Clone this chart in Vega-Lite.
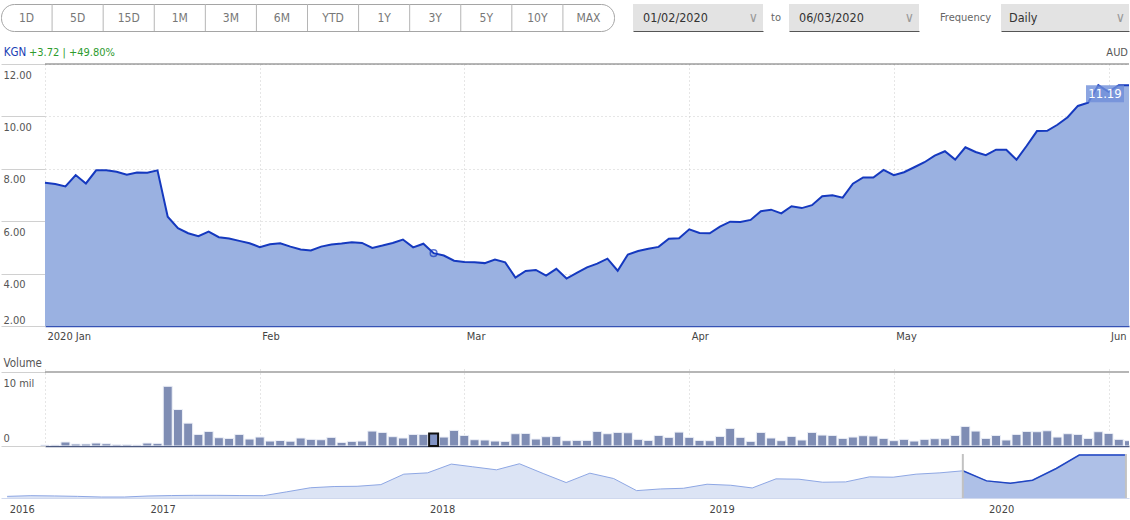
{
  "$schema": "https://vega.github.io/schema/vega-lite/v6.json",
  "padding": {"top": 3, "left": 0, "right": 0, "bottom": 0},
  "background": "#ffffff",
  "spacing": 0,
  "config": {
    "font": "Liberation Sans Narrow, DejaVu Sans Condensed, Roboto Condensed, Roboto, sans-serif",
    "view": {"stroke": null},
    "concat": {"spacing": 0},
    "axis": {"labelFontSize": 11, "labelColor": "#555555"}
  },
  "datasets": {
    "buttons": [
      {"label": "1D"}, {"label": "5D"}, {"label": "15D"}, {"label": "1M"}, {"label": "3M"}, {"label": "6M"},
      {"label": "YTD"}, {"label": "1Y"}, {"label": "3Y"}, {"label": "5Y"}, {"label": "10Y"}, {"label": "MAX"}
    ],
    "daily": [
      {"date":"2020-01-02","close":7.47,"volume":130000},
      {"date":"2020-01-03","close":7.42,"volume":130000},
      {"date":"2020-01-06","close":7.33,"volume":540000},
      {"date":"2020-01-07","close":7.76,"volume":270000},
      {"date":"2020-01-08","close":7.44,"volume":270000},
      {"date":"2020-01-09","close":7.94,"volume":400000},
      {"date":"2020-01-10","close":7.94,"volume":310000},
      {"date":"2020-01-13","close":7.89,"volume":180000},
      {"date":"2020-01-14","close":7.77,"volume":180000},
      {"date":"2020-01-15","close":7.86,"volume":130000},
      {"date":"2020-01-16","close":7.85,"volume":400000},
      {"date":"2020-01-17","close":7.94,"volume":360000},
      {"date":"2020-01-20","close":6.17,"volume":8070000},
      {"date":"2020-01-21","close":5.73,"volume":4930000},
      {"date":"2020-01-22","close":5.54,"volume":3090000},
      {"date":"2020-01-23","close":5.43,"volume":1570000},
      {"date":"2020-01-24","close":5.60,"volume":1970000},
      {"date":"2020-01-28","close":5.39,"volume":1120000},
      {"date":"2020-01-29","close":5.34,"volume":1030000},
      {"date":"2020-01-30","close":5.25,"volume":1570000},
      {"date":"2020-01-31","close":5.16,"volume":940000},
      {"date":"2020-02-03","close":5.01,"volume":1210000},
      {"date":"2020-02-04","close":5.12,"volume":670000},
      {"date":"2020-02-05","close":5.16,"volume":740000},
      {"date":"2020-02-06","close":5.03,"volume":650000},
      {"date":"2020-02-07","close":4.92,"volume":1080000},
      {"date":"2020-02-10","close":4.88,"volume":900000},
      {"date":"2020-02-11","close":5.03,"volume":850000},
      {"date":"2020-02-12","close":5.11,"volume":1170000},
      {"date":"2020-02-13","close":5.15,"volume":490000},
      {"date":"2020-02-14","close":5.20,"volume":630000},
      {"date":"2020-02-17","close":5.17,"volume":670000},
      {"date":"2020-02-18","close":4.98,"volume":2020000},
      {"date":"2020-02-19","close":5.07,"volume":1840000},
      {"date":"2020-02-20","close":5.17,"volume":1260000},
      {"date":"2020-02-21","close":5.30,"volume":1080000},
      {"date":"2020-02-24","close":5.00,"volume":1570000},
      {"date":"2020-02-25","close":5.14,"volume":1570000},
      {"date":"2020-02-26","close":4.78,"volume":1700000},
      {"date":"2020-02-27","close":4.69,"volume":1210000},
      {"date":"2020-02-28","close":4.49,"volume":2110000},
      {"date":"2020-03-02","close":4.44,"volume":1430000},
      {"date":"2020-03-03","close":4.43,"volume":850000},
      {"date":"2020-03-04","close":4.40,"volume":810000},
      {"date":"2020-03-05","close":4.54,"volume":670000},
      {"date":"2020-03-06","close":4.43,"volume":630000},
      {"date":"2020-03-09","close":3.85,"volume":1660000},
      {"date":"2020-03-10","close":4.10,"volume":1700000},
      {"date":"2020-03-11","close":4.14,"volume":940000},
      {"date":"2020-03-12","close":3.92,"volume":1260000},
      {"date":"2020-03-13","close":4.18,"volume":1300000},
      {"date":"2020-03-16","close":3.81,"volume":720000},
      {"date":"2020-03-17","close":4.03,"volume":760000},
      {"date":"2020-03-18","close":4.24,"volume":760000},
      {"date":"2020-03-19","close":4.38,"volume":1970000},
      {"date":"2020-03-20","close":4.57,"volume":1660000},
      {"date":"2020-03-23","close":4.11,"volume":1840000},
      {"date":"2020-03-24","close":4.73,"volume":1790000},
      {"date":"2020-03-25","close":4.86,"volume":900000},
      {"date":"2020-03-26","close":4.95,"volume":760000},
      {"date":"2020-03-27","close":5.02,"volume":1430000},
      {"date":"2020-03-30","close":5.33,"volume":1170000},
      {"date":"2020-03-31","close":5.35,"volume":1880000},
      {"date":"2020-04-01","close":5.69,"volume":1170000},
      {"date":"2020-04-02","close":5.55,"volume":760000},
      {"date":"2020-04-03","close":5.54,"volume":720000},
      {"date":"2020-04-06","close":5.79,"volume":1300000},
      {"date":"2020-04-07","close":5.98,"volume":2380000},
      {"date":"2020-04-08","close":5.97,"volume":1170000},
      {"date":"2020-04-09","close":6.05,"volume":630000},
      {"date":"2020-04-14","close":6.38,"volume":1840000},
      {"date":"2020-04-15","close":6.44,"volume":1080000},
      {"date":"2020-04-16","close":6.30,"volume":720000},
      {"date":"2020-04-17","close":6.57,"volume":1300000},
      {"date":"2020-04-20","close":6.50,"volume":810000},
      {"date":"2020-04-21","close":6.61,"volume":1840000},
      {"date":"2020-04-22","close":6.95,"volume":1480000},
      {"date":"2020-04-23","close":6.99,"volume":1430000},
      {"date":"2020-04-24","close":6.90,"volume":1030000},
      {"date":"2020-04-27","close":7.43,"volume":1210000},
      {"date":"2020-04-28","close":7.67,"volume":1390000},
      {"date":"2020-04-29","close":7.67,"volume":1350000},
      {"date":"2020-04-30","close":7.96,"volume":1030000},
      {"date":"2020-05-01","close":7.76,"volume":720000},
      {"date":"2020-05-04","close":7.87,"volume":900000},
      {"date":"2020-05-05","close":8.06,"volume":670000},
      {"date":"2020-05-06","close":8.25,"volume":900000},
      {"date":"2020-05-07","close":8.50,"volume":990000},
      {"date":"2020-05-08","close":8.67,"volume":990000},
      {"date":"2020-05-11","close":8.35,"volume":1430000},
      {"date":"2020-05-12","close":8.82,"volume":2650000},
      {"date":"2020-05-13","close":8.64,"volume":2020000},
      {"date":"2020-05-14","close":8.52,"volume":1030000},
      {"date":"2020-05-15","close":8.73,"volume":1430000},
      {"date":"2020-05-18","close":8.73,"volume":810000},
      {"date":"2020-05-19","close":8.35,"volume":1570000},
      {"date":"2020-05-20","close":8.88,"volume":1970000},
      {"date":"2020-05-21","close":9.44,"volume":1930000},
      {"date":"2020-05-22","close":9.45,"volume":2060000},
      {"date":"2020-05-25","close":9.68,"volume":1210000},
      {"date":"2020-05-26","close":9.97,"volume":1660000},
      {"date":"2020-05-27","close":10.40,"volume":1570000},
      {"date":"2020-05-28","close":10.52,"volume":1030000},
      {"date":"2020-05-29","close":11.19,"volume":1930000},
      {"date":"2020-06-01","close":10.94,"volume":1700000},
      {"date":"2020-06-02","close":11.19,"volume":900000},
      {"date":"2020-06-03","close":11.19,"volume":720000}
    ],
    "nav": [
      {"month":"2016-07-01","value":1.10},
      {"month":"2016-08-01","value":1.27},
      {"month":"2016-09-01","value":1.20},
      {"month":"2016-10-01","value":1.10},
      {"month":"2016-11-01","value":0.94},
      {"month":"2016-12-01","value":0.94},
      {"month":"2017-01-01","value":1.19},
      {"month":"2017-02-01","value":1.30},
      {"month":"2017-03-01","value":1.35},
      {"month":"2017-04-01","value":1.35},
      {"month":"2017-05-01","value":1.30},
      {"month":"2017-06-01","value":1.27},
      {"month":"2017-07-01","value":2.20},
      {"month":"2017-08-01","value":3.20},
      {"month":"2017-09-01","value":3.50},
      {"month":"2017-10-01","value":3.56},
      {"month":"2017-11-01","value":3.97},
      {"month":"2017-12-01","value":6.52},
      {"month":"2018-01-01","value":6.84},
      {"month":"2018-02-01","value":8.98},
      {"month":"2018-03-01","value":8.32},
      {"month":"2018-04-01","value":7.58},
      {"month":"2018-05-01","value":9.06},
      {"month":"2018-06-01","value":6.68},
      {"month":"2018-07-01","value":4.47},
      {"month":"2018-08-01","value":6.76},
      {"month":"2018-09-01","value":5.45},
      {"month":"2018-10-01","value":2.50},
      {"month":"2018-11-01","value":2.91},
      {"month":"2018-12-01","value":3.07},
      {"month":"2019-01-01","value":4.06},
      {"month":"2019-02-01","value":3.81},
      {"month":"2019-03-01","value":3.15},
      {"month":"2019-04-01","value":5.37},
      {"month":"2019-05-01","value":5.29},
      {"month":"2019-06-01","value":4.55},
      {"month":"2019-07-01","value":4.63},
      {"month":"2019-08-01","value":5.86},
      {"month":"2019-09-01","value":5.78},
      {"month":"2019-10-01","value":6.52},
      {"month":"2019-11-01","value":6.84},
      {"month":"2019-12-01","value":7.34},
      {"month":"2020-01-01","value":4.88},
      {"month":"2020-02-01","value":4.30},
      {"month":"2020-03-01","value":5.04},
      {"month":"2020-04-01","value":7.90},
      {"month":"2020-05-01","value":11.19},
      {"month":"2020-06-01","value":11.19},
      {"month":"2020-07-01","value":11.19}
    ]
  },
  "vconcat": [
    {
      "spacing": 0,
      "hconcat": [
        {
          "width": 613, "height": 27,
          "view": {"stroke": "#a5a5a5", "strokeWidth": 1, "cornerRadius": 13, "fill": "#ffffff"},
          "data": {"name": "buttons"},
          "layer": [
            {
              "transform": [{"filter": "datum.label != '1D'"}],
              "mark": {"type": "rule", "color": "#b5b5b5"},
              "encoding": {
                "x": {"field": "label", "type": "nominal", "bandPosition": 0, "axis": null,
                      "scale": {"domain": ["1D","5D","15D","1M","3M","6M","YTD","1Y","3Y","5Y","10Y","MAX"], "paddingInner": 0, "paddingOuter": 0}}
              }
            },
            {
              "mark": {"type": "text", "fontSize": 12, "color": "#777777"},
              "encoding": {
                "x": {"field": "label", "type": "nominal"},
                "text": {"field": "label"}
              }
            }
          ]
        },
        {
          "width": 18, "height": 27,
          "data": {"values": [{}]},
          "mark": {"type": "rect", "opacity": 0}
        },
        {
          "width": 130, "height": 27,
          "view": {"fill": "#e3e3e3", "stroke": null},
          "data": {"values": [{"t": "01/02/2020"}]},
          "layer": [
            {
              "mark": {"type": "text", "align": "left", "dx": 10, "fontSize": 12.5, "color": "#333333"},
              "encoding": {
                "x": {"datum": 0, "type": "quantitative", "scale": {"domain": [0, 1], "nice": false},
                      "axis": {"labels": false, "ticks": false, "grid": false, "domain": true, "domainColor": "#555555", "domainWidth": 1, "title": null}},
                "text": {"field": "t"}
              }
            },
            {
              "mark": {"type": "text", "align": "right", "dx": -5, "fontSize": 14, "color": "#9a9a9a", "text": "∨"},
              "encoding": {"x": {"datum": 1, "type": "quantitative"}}
            }
          ]
        },
        {
          "width": 26, "height": 27,
          "data": {"values": [{"t": "to"}]},
          "mark": {"type": "text", "fontSize": 11, "color": "#666666"},
          "encoding": {
            "x": {"field": "t", "type": "nominal", "axis": null, "scale": {"paddingInner": 0, "paddingOuter": 0}},
            "text": {"field": "t"}
          }
        },
        {
          "width": 130, "height": 27,
          "view": {"fill": "#e3e3e3", "stroke": null},
          "data": {"values": [{"t": "06/03/2020"}]},
          "layer": [
            {
              "mark": {"type": "text", "align": "left", "dx": 10, "fontSize": 12.5, "color": "#333333"},
              "encoding": {
                "x": {"datum": 0, "type": "quantitative", "scale": {"domain": [0, 1], "nice": false},
                      "axis": {"labels": false, "ticks": false, "grid": false, "domain": true, "domainColor": "#555555", "domainWidth": 1, "title": null}},
                "text": {"field": "t"}
              }
            },
            {
              "mark": {"type": "text", "align": "right", "dx": -5, "fontSize": 14, "color": "#9a9a9a", "text": "∨"},
              "encoding": {"x": {"datum": 1, "type": "quantitative"}}
            }
          ]
        },
        {
          "width": 82, "height": 27,
          "data": {"values": [{"t": "Frequency"}]},
          "mark": {"type": "text", "fontSize": 11, "color": "#666666", "align": "right", "dx": -10},
          "encoding": {
            "x": {"datum": 1, "type": "quantitative", "scale": {"domain": [0, 1], "nice": false}, "axis": null},
            "text": {"field": "t"}
          }
        },
        {
          "width": 128, "height": 27,
          "view": {"fill": "#e3e3e3", "stroke": null},
          "data": {"values": [{"t": "Daily"}]},
          "layer": [
            {
              "mark": {"type": "text", "align": "left", "dx": 8, "fontSize": 12.5, "color": "#333333"},
              "encoding": {
                "x": {"datum": 0, "type": "quantitative", "scale": {"domain": [0, 1], "nice": false},
                      "axis": {"labels": false, "ticks": false, "grid": false, "domain": true, "domainColor": "#555555", "domainWidth": 1, "title": null}},
                "text": {"field": "t"}
              }
            },
            {
              "mark": {"type": "text", "align": "right", "dx": -4, "fontSize": 14, "color": "#9a9a9a", "text": "∨"},
              "encoding": {"x": {"datum": 1, "type": "quantitative"}}
            }
          ]
        }
      ]
    },
    {
      "spacing": 0,
      "hconcat": [
        {
          "width": 28, "height": 31,
          "data": {"values": [{"t": "KGN"}]},
          "mark": {"type": "text", "fontSize": 11.5, "color": "#1d3fb5", "dy": 5},
          "encoding": {
            "x": {"field": "t", "type": "nominal", "axis": null, "scale": {"paddingInner": 0, "paddingOuter": 0}},
            "text": {"field": "t"}
          }
        },
        {
          "width": 86, "height": 31,
          "data": {"values": [{"t": "+3.72 | +49.80%"}]},
          "mark": {"type": "text", "fontSize": 11, "color": "#2e9b2e", "dy": 5},
          "encoding": {
            "x": {"field": "t", "type": "nominal", "axis": null, "scale": {"paddingInner": 0, "paddingOuter": 0}},
            "text": {"field": "t"}
          }
        },
        {
          "width": 1014, "height": 31,
          "data": {"values": [{"t": "AUD"}]},
          "mark": {"type": "text", "fontSize": 11, "color": "#555555", "align": "right", "dx": -1, "dy": 5},
          "encoding": {
            "x": {"datum": 1, "type": "quantitative", "scale": {"domain": [0, 1], "nice": false}, "axis": null},
            "text": {"field": "t"}
          }
        }
      ]
    },
    {
      "width": 1128, "height": 262,
      "data": {"name": "daily"},
      "layer": [
        {
          "mark": {"type": "area", "color": "#9ab1e1", "opacity": 1},
          "encoding": {
            "x": {
              "field": "date", "type": "ordinal",
              "scale": {"type": "point", "range": [44, 1128], "padding": 0},
              "axis": {
                "values": ["2020-01-02","2020-02-03","2020-03-02","2020-04-01","2020-05-01","2020-06-01"],
                "labelExpr": "datum.value == '2020-01-02' ? '2020 Jan' : datum.value == '2020-02-03' ? 'Feb' : datum.value == '2020-03-02' ? 'Mar' : datum.value == '2020-04-01' ? 'Apr' : datum.value == '2020-05-01' ? 'May' : 'Jun'",
                "labelAngle": 0, "labelAlign": "left", "labelBaseline": "top", "labelOffset": 2, "labelPadding": 4,
                "labelColor": "#444444",
                "ticks": false, "domain": true, "domainColor": "#3552b5", "domainWidth": 1.5,
                "grid": true, "gridColor": "#cdcdcd", "gridDash": [1, 3],
                "title": "Volume", "titleX": 2, "titleY": 40, "titleAlign": "left", "titleAnchor": "start",
                "titleBaseline": "alphabetic", "titleFontWeight": "normal", "titleFontSize": 11.5, "titleColor": "#555555"
              }
            },
            "y": {
              "field": "close", "type": "quantitative",
              "scale": {"domain": [2, 12], "nice": false, "zero": false},
              "axis": {
                "values": [2, 4, 6, 8, 10, 12], "format": ".2f",
                "domain": false, "ticks": true, "tickSize": -44, "tickColor": "#d0d0d0",
                "labelAlign": "left", "labelPadding": 42, "labelBaseline": "top",
                "labelOffset": {"condition": {"test": "datum.value <= 2", "value": -12}, "value": 5},
                "labelColor": "#555555",
                "grid": true, "gridColor": "#cdcdcd", "gridDash": [1, 3],
                "title": null
              }
            },
            "y2": {"datum": 2}
          }
        },
        {
          "mark": {"type": "line", "color": "#1539bf", "strokeWidth": 2},
          "encoding": {
            "x": {"field": "date", "type": "ordinal"},
            "y": {"field": "close", "type": "quantitative"}
          }
        },
        {
          "transform": [{"filter": "datum.date == '2020-06-03'"}],
          "mark": {"type": "rule", "color": "#6e6e6e", "strokeWidth": 1.2},
          "encoding": {
            "x": {"datum": "2020-01-02", "type": "ordinal"},
            "x2": {"datum": "2020-06-03"},
            "y": {"datum": 12, "type": "quantitative"}
          }
        },
        {
          "transform": [{"filter": "datum.date == '2020-02-26'"}],
          "mark": {"type": "point", "filled": false, "color": "#1539bf", "size": 45, "strokeWidth": 1.5},
          "encoding": {
            "x": {"field": "date", "type": "ordinal"},
            "y": {"field": "close", "type": "quantitative"}
          }
        },
        {
          "transform": [{"filter": "datum.date == '2020-06-03'"}],
          "mark": {"type": "rect", "color": "#6f8fd9", "opacity": 0.8, "xOffset": -43, "x2Offset": -5, "y2Offset": 17},
          "encoding": {
            "x": {"field": "date", "type": "ordinal"},
            "x2": {"field": "date"},
            "y": {"field": "close", "type": "quantitative"},
            "y2": {"field": "close"}
          }
        },
        {
          "transform": [{"filter": "datum.date == '2020-06-03'"}],
          "mark": {"type": "text", "color": "#ffffff", "fontSize": 13, "dx": -24, "dy": 9, "align": "center", "baseline": "middle"},
          "encoding": {
            "x": {"field": "date", "type": "ordinal"},
            "y": {"field": "close", "type": "quantitative"},
            "text": {"field": "close", "type": "quantitative", "format": ".2f"}
          }
        }
      ]
    },
    {
      "width": 1128, "height": 77,
      "data": {"name": "daily"},
      "layer": [
        {
          "mark": {"type": "bar", "width": 9, "color": "#7f8db4", "stroke": "#eef1f8", "strokeWidth": 1, "clip": true},
          "encoding": {
            "x": {
              "field": "date", "type": "ordinal",
              "scale": {"type": "point", "range": [44, 1128], "padding": 0},
              "axis": {
                "values": ["2020-01-02","2020-02-03","2020-03-02","2020-04-01","2020-05-01","2020-06-01"],
                "labels": false, "ticks": false, "domain": true, "domainColor": "#4c5a80", "domainWidth": 1.5,
                "grid": true, "gridColor": "#cdcdcd", "gridDash": [1, 3], "title": null
              }
            },
            "y": {
              "field": "volume", "type": "quantitative",
              "scale": {"domain": [0, 10405000], "nice": false},
              "axis": {
                "values": [0, 10000000],
                "labelExpr": "datum.value > 0 ? '10 mil' : '0'",
                "domain": false, "ticks": true, "tickSize": -44, "tickColor": "#d0d0d0",
                "labelAlign": "left", "labelPadding": 42, "labelBaseline": "top",
                "labelOffset": {"condition": {"test": "datum.value <= 0", "value": -14}, "value": 6},
                "labelColor": "#555555", "grid": false, "title": null
              }
            }
          }
        },
        {
          "transform": [{"filter": "datum.date == '2020-02-26'"}],
          "mark": {"type": "bar", "width": 9, "color": "#8193c4", "stroke": "#111111", "strokeWidth": 2},
          "encoding": {
            "x": {"field": "date", "type": "ordinal"},
            "y": {"field": "volume", "type": "quantitative"}
          }
        },
        {
          "transform": [{"filter": "datum.date == '2020-06-03'"}],
          "mark": {"type": "rule", "color": "#6e6e6e", "strokeWidth": 1.2},
          "encoding": {
            "x": {"datum": "2020-01-02", "type": "ordinal"},
            "x2": {"datum": "2020-06-03"},
            "y": {"datum": 10000000, "type": "quantitative"}
          }
        }
      ]
    },
    {
      "width": 1128, "height": 51,
      "data": {"name": "nav"},
      "layer": [
        {
          "mark": {"type": "area", "color": "#cdd8f1", "line": {"color": "#8ea7e4", "strokeWidth": 1}},
          "encoding": {
            "x": {
              "field": "month", "type": "temporal",
              "scale": {"domain": [{"year": 2016, "month": 6, "date": 23}, {"year": 2020, "month": 7, "date": 5}]},
              "axis": {
                "values": [
                  {"year": 2016, "month": 7, "date": 1},
                  {"year": 2017, "month": 1, "date": 1},
                  {"year": 2018, "month": 1, "date": 1},
                  {"year": 2019, "month": 1, "date": 1},
                  {"year": 2020, "month": 1, "date": 1}
                ],
                "format": "%Y", "labelAlign": "left", "labelOffset": 2, "labelPadding": 5, "labelBaseline": "top",
                "labelFlush": false, "labelOverlap": false, "labelColor": "#444444",
                "ticks": false, "grid": false, "domain": true, "domainColor": "#cfd8ee", "title": null
              }
            },
            "y": {
              "field": "value", "type": "quantitative",
              "scale": {"domain": [0.7, 13.15], "nice": false, "zero": false},
              "axis": null
            },
            "y2": {"datum": 0.7}
          }
        },
        {
          "transform": [{"filter": {"field": "month", "gte": {"year": 2019, "month": 12, "date": 1}}}],
          "mark": {"type": "area", "color": "#9ab1e1", "line": {"color": "#2146c2", "strokeWidth": 1.5}},
          "encoding": {
            "x": {"field": "month", "type": "temporal"},
            "y": {"field": "value", "type": "quantitative"},
            "y2": {"datum": 0.7}
          }
        },
        {
          "data": {"values": [{"edge": "2019-12-01"}, {"edge": "2020-07-01"}]},
          "mark": {"type": "rule", "color": "#c2c2c2", "strokeWidth": 2},
          "encoding": {
            "x": {"field": "edge", "type": "temporal"},
            "y": {"datum": 0.7},
            "y2": {"datum": 11.44}
          }
        }
      ]
    }
  ]
}
